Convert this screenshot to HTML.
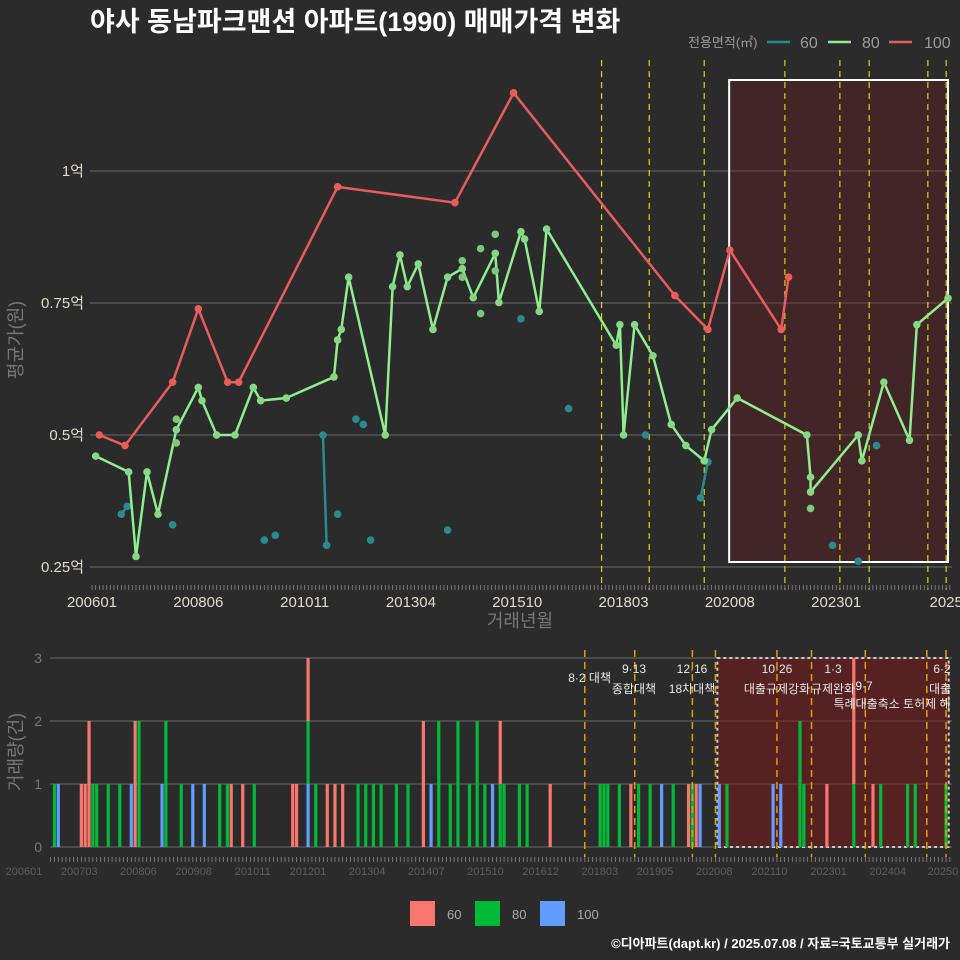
<!DOCTYPE html>
<html><head><meta charset="utf-8"><style>
html,body{margin:0;padding:0;background:#2b2b2b;}
svg{display:block;font-family:"Liberation Sans","Noto Sans CJK KR",sans-serif;}
</style></head><body>
<svg id="chart" width="960" height="960" viewBox="0 0 960 960" xmlns="http://www.w3.org/2000/svg">
<rect width="960" height="960" fill="#2b2b2b"/>
<text x="90" y="31" fill="#ffffff" font-size="27" font-weight="bold">야사 동남파크맨션 아파트(1990) 매매가격 변화</text>
<g>
<text x="688" y="47" fill="#9a9a9a" font-size="13">전용면적(㎡)</text>
<line x1="767" y1="42" x2="790" y2="42" stroke="#2a8a8f" stroke-width="2.5"/>
<text x="800" y="48" fill="#9a9a9a" font-size="16">60</text>
<line x1="828" y1="42" x2="851" y2="42" stroke="#90ee90" stroke-width="2.5"/>
<text x="862" y="48" fill="#9a9a9a" font-size="16">80</text>
<line x1="889" y1="42" x2="912" y2="42" stroke="#e85c5c" stroke-width="2.5"/>
<text x="924" y="48" fill="#9a9a9a" font-size="16">100</text>
</g>
<g id="topg"></g>
<g id="botg"></g>
<text x="22" y="340" fill="#777" font-size="18" transform="rotate(-90 22 340)" text-anchor="middle">평균가(원)</text>
<text x="520" y="627" fill="#777" font-size="18" text-anchor="middle">거래년월</text>
<text x="22" y="752" fill="#777" font-size="18" transform="rotate(-90 22 752)" text-anchor="middle">거래량(건)</text>
<g>
<rect x="410" y="901" width="25" height="25" fill="#f8766d"/>
<text x="447" y="919" fill="#aaa" font-size="13">60</text>
<rect x="475" y="901" width="25" height="25" fill="#00ba38"/>
<text x="512" y="919" fill="#aaa" font-size="13">80</text>
<rect x="540" y="901" width="25" height="25" fill="#619cff"/>
<text x="577" y="919" fill="#aaa" font-size="13">100</text>
</g>
<text x="950" y="948" fill="#ffffff" font-size="13" font-weight="bold" text-anchor="end">©디아파트(dapt.kr) / 2025.07.08 / 자료=국토교통부 실거래가</text>
</svg>
<script>
// ---- data (months since 2006-01, price in 억) ----
const line80Months=[1,10,12,15,18,23,29,30,34,39,44,46,53,66,67,68,70,80,82,84,86,89,93,97,101,104,110,111,117,118,122,124,143,144,145,148,153,158,162,167,169,176,195,196,196,209,210,216,223,225,233.5];
const line80Values=[.460,.430,.270,.430,.350,.510,.590,.565,.500,.500,.590,.565,.570,.610,.680,.700,.799,.500,.781,.841,.781,.824,.700,.799,.815,.760,.844,.751,.885,.871,.734,.890,.670,.709,.500,.709,.650,.520,.480,.451,.510,.570,.500,.420,.392,.500,.451,.600,.490,.709,.759];
const dots80Months=[23,23,101,101,106,106,110,110,196];
const dots80Values=[.530,.485,.830,.799,.853,.730,.880,.811,.361];
const line100Months=[2,9,22,29,37,40,67,99,115,159,168,174,188,190];
const line100Values=[.500,.480,.600,.739,.600,.600,.970,.940,1.148,.764,.700,.850,.700,.799];
const pts60Months=[8,9.6,22,47,50,63,64,67,72,74,76,97,117,130,151,166,168,202,209,214];
const pts60Values=[.350,.365,.330,.301,.310,.500,.291,.350,.530,.520,.301,.320,.720,.550,.500,.381,.449,.291,.261,.480];
const seg60=[[0,1],[5,6],[15,16]];
const yTicks=[0.25,0.5,0.75,1];
const yTickLabels=["0.25억","0.5억","0.75억","1억"];
const xTickMonths=[0,29,58,87,116,145,174,203,233];
const xTickLabels=["200601","200806","201011","201304","201510","201803","202008","202301","2025"];
const policyTop=[139,152,167,189,204,212,228,233];
const bars60=[8,9,10,10,22,22,47,50,63,64,67,72,74,76,97,97,117,130,151,166,168,202,209,209,214];
const bars80=[1,11,12,15,18,23,23,30,30,34,44,46,53,67,69,80,82,84,86,90,93,101,101,104,106,106,109,111,111,113,117,118,122,124,143,144,145,148,153,156,162,167,176,195,195,196,209,216,223,225,233];
const bars100=[2,21,29,37,40,67,99,115,159,169,174,188,190];
const volTicks=[0,1,2,3];
const botLabelMonths=[0,14,29,43,58,72,87,102,117,131,146,160,175,189,204,219,233];
const botLabels=["200601","200703","200806","200908","201011","201201","201304","201407","201510","201612","201803","201905","202008","202110","202301","202404","20250"];
const policyBot=[139,152,167,173,189,198,212,228,233];

const NS="http://www.w3.org/2000/svg";
function mk(p,tag,a){const e=document.createElementNS(NS,tag);for(const k in a)e.setAttribute(k,a[k]);p.appendChild(e);return e;}
const topG=document.getElementById('topg'),botG=document.getElementById('botg');
const X=m=>92+m*3.666, Y=v=>171+(1-v)*528;
const BX=m=>50.6+m*3.843, BY=c=>847-c*63;

yTicks.forEach((t,i)=>{
 let g=mk(topG,'line',{x1:90,x2:952,y1:Y(t),y2:Y(t),stroke:'#6a6a6a','stroke-width':1});
 
 
 let tx=mk(topG,'text',{x:84,y:Y(t)+5,fill:'#e0dccb','font-size':15,'text-anchor':'end'});tx.textContent=yTickLabels[i];
 
 
});
let sr=mk(topG,'rect',{x:X(173.8),y:80,width:X(233.5)-X(173.8),height:482,fill:'rgba(110,25,30,0.35)',stroke:'#ffffff','stroke-width':2});


policyTop.forEach(m=>{let l=mk(topG,'line',{x1:X(m),x2:X(m),y1:60,y2:590,stroke:'#d8d800','stroke-width':1.2,'stroke-dasharray':'6,5'});
 
 });
for(let m=0;m<=234;m++){let t=mk(topG,'line',{x1:X(m),x2:X(m),y1:585,y2:590,stroke:'#888','stroke-width':0.8});
 
 }
xTickMonths.forEach((m,i)=>{let tx=mk(topG,'text',{x:X(m),y:607,fill:'#e0dccb','font-size':15,'text-anchor':'middle'});tx.textContent=xTickLabels[i];
 
 });
function poly(ms,vs,col,name){let p=mk(topG,'polyline',{points:ms.map((m,i)=>X(m)+','+Y(vs[i])).join(' '),fill:'none',stroke:col,'stroke-width':2.5,'stroke-linejoin':'round'});
 
 }
function dots(ms,vs,col,name){ms.forEach((m,i)=>{let c=mk(topG,'circle',{cx:X(m),cy:Y(vs[i]),r:3.8,fill:col});
 
 });}
seg60.forEach(s=>poly(pts60Months.slice(s[0],s[1]+1),pts60Values.slice(s[0],s[1]+1),'#2a8a8f','line-60'));
dots(pts60Months,pts60Values,'#2a8a8f','point-60');
poly(line80Months,line80Values,'#90ee90','line-80');
dots(line80Months,line80Values,'#86d886','point-80');
dots(dots80Months,dots80Values,'#7cc87c','point-80');
poly(line100Months,line100Values,'#e85c5c','line-100');
dots(line100Months,line100Values,'#e85c5c','point-100');

volTicks.forEach(t=>{let g=mk(botG,'line',{x1:50,x2:952,y1:BY(t),y2:BY(t),stroke:'#6a6a6a','stroke-width':1});
 
 
 let tx=mk(botG,'text',{x:42,y:BY(t)+5,fill:'#777','font-size':14,'text-anchor':'end'});tx.textContent=t;
 
 });
let bs=mk(botG,'rect',{x:BX(173.5),y:658,width:BX(233.7)-BX(173.5),height:189,fill:'rgba(120,25,25,0.55)',stroke:'#cccccc','stroke-width':2,'stroke-dasharray':'3,3'});


function count(arr){const o={};arr.forEach(m=>o[m]=(o[m]||0)+1);return o;}
const c60=count(bars60),c80=count(bars80),c100=count(bars100);
const allM=new Set([...bars60,...bars80,...bars100]);
allM.forEach(m=>{let base=0;
 [[c100,'#619cff','bar-100'],[c80,'#00ba38','bar-80'],[c60,'#f8766d','bar-60']].forEach(([c,col,nm])=>{
  const n=c[m]||0;if(!n)return;
  let r=mk(botG,'rect',{x:BX(m)-1.6,y:BY(base+n),width:3.2,height:BY(base)-BY(base+n),fill:col});
  
  
  base+=n;});});
policyBot.forEach(m=>{let l=mk(botG,'line',{x1:BX(m),x2:BX(m),y1:650,y2:857,stroke:'#e0a000','stroke-width':1.5,'stroke-dasharray':'7,5'});
 
 });
for(let m=0;m<=234;m++){let t=mk(botG,'line',{x1:BX(m),x2:BX(m),y1:857,y2:862,stroke:'#888','stroke-width':0.8});
 
 }
botLabelMonths.forEach((m,i)=>{let tx=mk(botG,'text',{x:24+m*3.944,y:875,fill:'#5e5e5e','font-size':11,'text-anchor':'middle'});tx.textContent=botLabels[i];
 
 });
const ann=[[611,682,'end','8·2 대책'],[634,673,'middle','9·13'],[634,693,'middle','종합대책'],[692,673,'middle','12·16'],[692,693,'middle','18차대책'],
[777,673,'middle','10·26'],[777,693,'middle','대출규제강화'],[833,673,'middle','1·3'],[833,693,'middle','규제완화'],[864,690,'middle','9·7'],[892,708,'middle','특례대출축소 토허제 해'],[942,673,'middle','6·2'],[940,693,'middle','대출']];
ann.forEach(a=>{let tx=mk(botG,'text',{x:a[0],y:a[1],fill:'#e8e8e8','font-size':12,'text-anchor':a[2]});tx.textContent=a[3];
 
 });
</script>
</body></html>
